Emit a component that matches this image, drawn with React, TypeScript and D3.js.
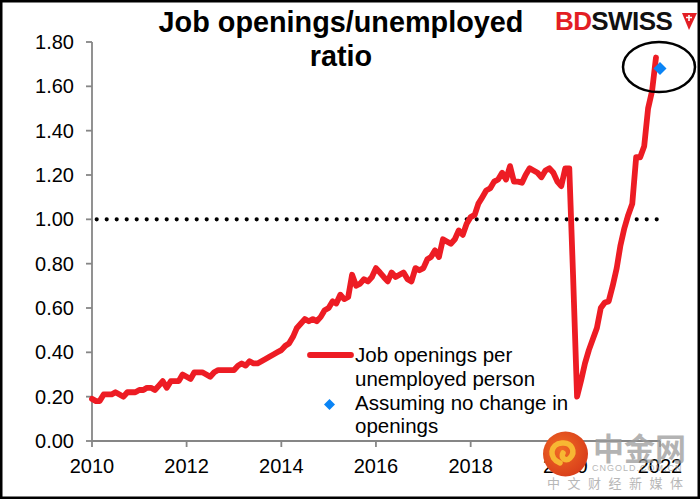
import React from "react";
import * as d3 from "d3";

const START_YEAR = 2010;
const ratio2010 = [0.19, 0.18, 0.18, 0.21, 0.21, 0.21, 0.22, 0.21, 0.20, 0.22, 0.22, 0.22];
const ratio2011 = [0.23, 0.23, 0.24, 0.24, 0.23, 0.25, 0.27, 0.24, 0.27, 0.27, 0.27, 0.30];
const ratio2012 = [0.29, 0.28, 0.31, 0.31, 0.31, 0.30, 0.29, 0.31, 0.32, 0.32, 0.32, 0.32];
const ratio2013 = [0.32, 0.34, 0.35, 0.34, 0.36, 0.35, 0.35, 0.36, 0.37, 0.38, 0.39, 0.40];
const ratio2014 = [0.41, 0.43, 0.44, 0.47, 0.51, 0.53, 0.55, 0.54, 0.55, 0.54, 0.56, 0.59];
const ratio2015 = [0.60, 0.63, 0.62, 0.66, 0.64, 0.65, 0.75, 0.70, 0.71, 0.73, 0.72, 0.74];
const ratio2016 = [0.78, 0.76, 0.74, 0.72, 0.76, 0.74, 0.75, 0.76, 0.73, 0.72, 0.78, 0.77];
const ratio2017 = [0.78, 0.82, 0.83, 0.86, 0.83, 0.91, 0.90, 0.89, 0.91, 0.95, 0.93, 0.98];
const ratio2018 = [1.01, 1.02, 1.07, 1.10, 1.13, 1.14, 1.17, 1.18, 1.21, 1.18, 1.24, 1.17];
const ratio2019 = [1.17, 1.165, 1.20, 1.23, 1.22, 1.21, 1.19, 1.22, 1.23, 1.21, 1.17, 1.15];
const ratio2020 = [1.23, 1.23, 0.75, 0.20, 0.27, 0.35, 0.41, 0.46, 0.51, 0.60, 0.625, 0.63];
const ratio2021 = [0.70, 0.78, 0.88, 0.96, 1.02, 1.07, 1.28, 1.28, 1.33, 1.50, 1.58, 1.73];

const assumedDate = [2022, 0];
const assumedValue = 1.68;
const referenceLevel = 1.0;

const yTicks = [0, 0.2, 0.4, 0.6, 0.8, 1.0, 1.2, 1.4, 1.6, 1.8];
const xTickYears = [2010, 2012, 2014, 2016, 2018, 2020, 2022];

const titleLines = ["Job openings/unemployed", "ratio"];
const legendLine1 = ["Job openings per", "unemployed person"];
const legendLine2 = ["Assuming no change in", "openings"];

const W = 700;
const H = 499;
const FONT = "'Liberation Sans', Arial, Helvetica, sans-serif";
const RED = "#ED1C24";
const BLUE = "#0A84F5";
const AXIS = "#868686";

export default function App() {
  const allValues = [
    ...ratio2010, ...ratio2011, ...ratio2012, ...ratio2013, ...ratio2014, ...ratio2015,
    ...ratio2016, ...ratio2017, ...ratio2018, ...ratio2019, ...ratio2020, ...ratio2021,
  ];
  const start = new Date(START_YEAR, 0, 1);
  const series = allValues.map((v, i) => ({ date: d3.timeMonth.offset(start, i), v }));

  const x = d3
    .scaleTime()
    .domain([new Date(2010, 0, 1), new Date(2022, 0, 1)])
    .range([92, 660]);
  const y = d3.scaleLinear().domain([0, 1.8]).range([441, 42]);

  const line = d3
    .line<{ date: Date; v: number }>()
    .x((d) => x(d.date))
    .y((d) => y(d.v));

  const lastDate = series[series.length - 1].date;
  const dDate = new Date(assumedDate[0], assumedDate[1], 1);
  const dx = x(dDate);
  const dy = y(assumedValue);

  const diamond = (cx: number, cy: number, r: number) =>
    `M${cx},${cy - r}L${cx + r},${cy}L${cx},${cy + r}L${cx - r},${cy}Z`;

  return (
    <svg
      width={W}
      height={H}
      style={{ position: "absolute", left: 0, top: 0, background: "#fff" }}
      fontFamily={FONT}
    >
      <rect x={0} y={0} width={W} height={H} fill="#fff" />

      {/* reference dotted line */}
      <line
        x1={x(start) + 4.7}
        x2={x(lastDate) + 1}
        y1={y(referenceLevel)}
        y2={y(referenceLevel)}
        stroke="#000"
        strokeWidth={4.2}
        strokeLinecap="round"
        strokeDasharray="0 10"
      />

      {/* axes */}
      <line x1={92} x2={92} y1={y(0)} y2={y(1.8)} stroke={AXIS} strokeWidth={1.8} />
      {yTicks.map((t) => (
        <g key={t}>
          <line x1={86} x2={92} y1={y(t)} y2={y(t)} stroke={AXIS} strokeWidth={1.8} />
          <text x={74} y={y(t) + 7} textAnchor="end" fontSize={20} fill="#000">
            {t.toFixed(2)}
          </text>
        </g>
      ))}
      <line x1={92} x2={x(new Date(2022, 0, 1))} y1={y(0)} y2={y(0)} stroke={AXIS} strokeWidth={1.8} />
      {xTickYears.map((yr) => {
        const px = x(new Date(yr, 0, 1));
        return (
          <g key={yr}>
            <line x1={px} x2={px} y1={y(0)} y2={y(0) + 6} stroke={AXIS} strokeWidth={1.8} />
            <text x={px} y={473} textAnchor="middle" fontSize={20} fill="#000">
              {yr}
            </text>
          </g>
        );
      })}

      {/* main series */}
      <path
        d={line(series) || ""}
        fill="none"
        stroke={RED}
        strokeWidth={5.8}
        strokeLinejoin="round"
        strokeLinecap="round"
      />

      {/* assumed point */}
      <path d={diamond(dx, dy, 6.5)} fill={BLUE} />
      <ellipse cx={659} cy={67} rx={36} ry={25} fill="none" stroke="#000" strokeWidth={2.5} />

      {/* title */}
      <text x={341} y={32} textAnchor="middle" fontSize={28.8} fontWeight="bold" fill="#000">
        {titleLines[0]}
      </text>
      <text x={341} y={66} textAnchor="middle" fontSize={28.8} fontWeight="bold" fill="#000">
        {titleLines[1]}
      </text>

      {/* legend */}
      <line x1={310} x2={351} y1={355} y2={355} stroke={RED} strokeWidth={5.8} strokeLinecap="round" />
      <text x={355} y={362} fontSize={20.5} fill="#000">{legendLine1[0]}</text>
      <text x={355} y={386} fontSize={20.5} fill="#000">{legendLine1[1]}</text>
      <path d={diamond(329.5, 404.5, 5.5)} fill={BLUE} />
      <text x={355} y={410} fontSize={20.5} fill="#000">{legendLine2[0]}</text>
      <text x={355} y={433} fontSize={20.5} fill="#000">{legendLine2[1]}</text>

      {/* logo */}
      <text x={555} y={30} fontSize={26} fontWeight="bold" letterSpacing={-0.6}>
        <tspan fill="#E31E24">BD</tspan>
        <tspan fill="#111">SWISS</tspan>
      </text>
      <path d="M682,13 L697,13 L689,30 Z" fill="#E31E24" />
      <path d="M686,17.5 L692,17.5 M689,15 L689,21" stroke="#fff" strokeWidth={1.6} />

      {/* watermark */}
      <defs>
        <radialGradient id="wmg" cx="40%" cy="40%" r="70%">
          <stop offset="0%" stopColor="#F06A24" />
          <stop offset="100%" stopColor="#D63A1A" />
        </radialGradient>
      </defs>
      <circle cx={565.5} cy={454} r={22.5} fill="url(#wmg)" />
      <path
        d="M560,463 C548,458 550,444 562,443 C572,442 576,452 570,458 C566,462 560,458 563,453"
        fill="none"
        stroke="#F7B733"
        strokeWidth={5.5}
        strokeLinecap="round"
      />
      <text x={593} y={460} fontSize={31} fontWeight="bold" fill="#9a9a9a" opacity={0.75} fontFamily="'Noto Sans CJK SC', sans-serif">
        中金网
      </text>
      <text x={592} y={471} fontSize={9} fill="#9a9a9a" opacity={0.7} letterSpacing={1}>
        CNGOLD.COM.CN
      </text>
      <text x={547} y={488} fontSize={13} fill="#9a9a9a" opacity={0.7} letterSpacing={7.5} fontFamily="'Noto Sans CJK SC', sans-serif">
        中文财经新媒体
      </text>

      {/* frame */}
      <rect x={1.25} y={1.25} width={W - 2.5} height={H - 2.5} fill="none" stroke="#000" strokeWidth={2.5} />
    </svg>
  );
}
